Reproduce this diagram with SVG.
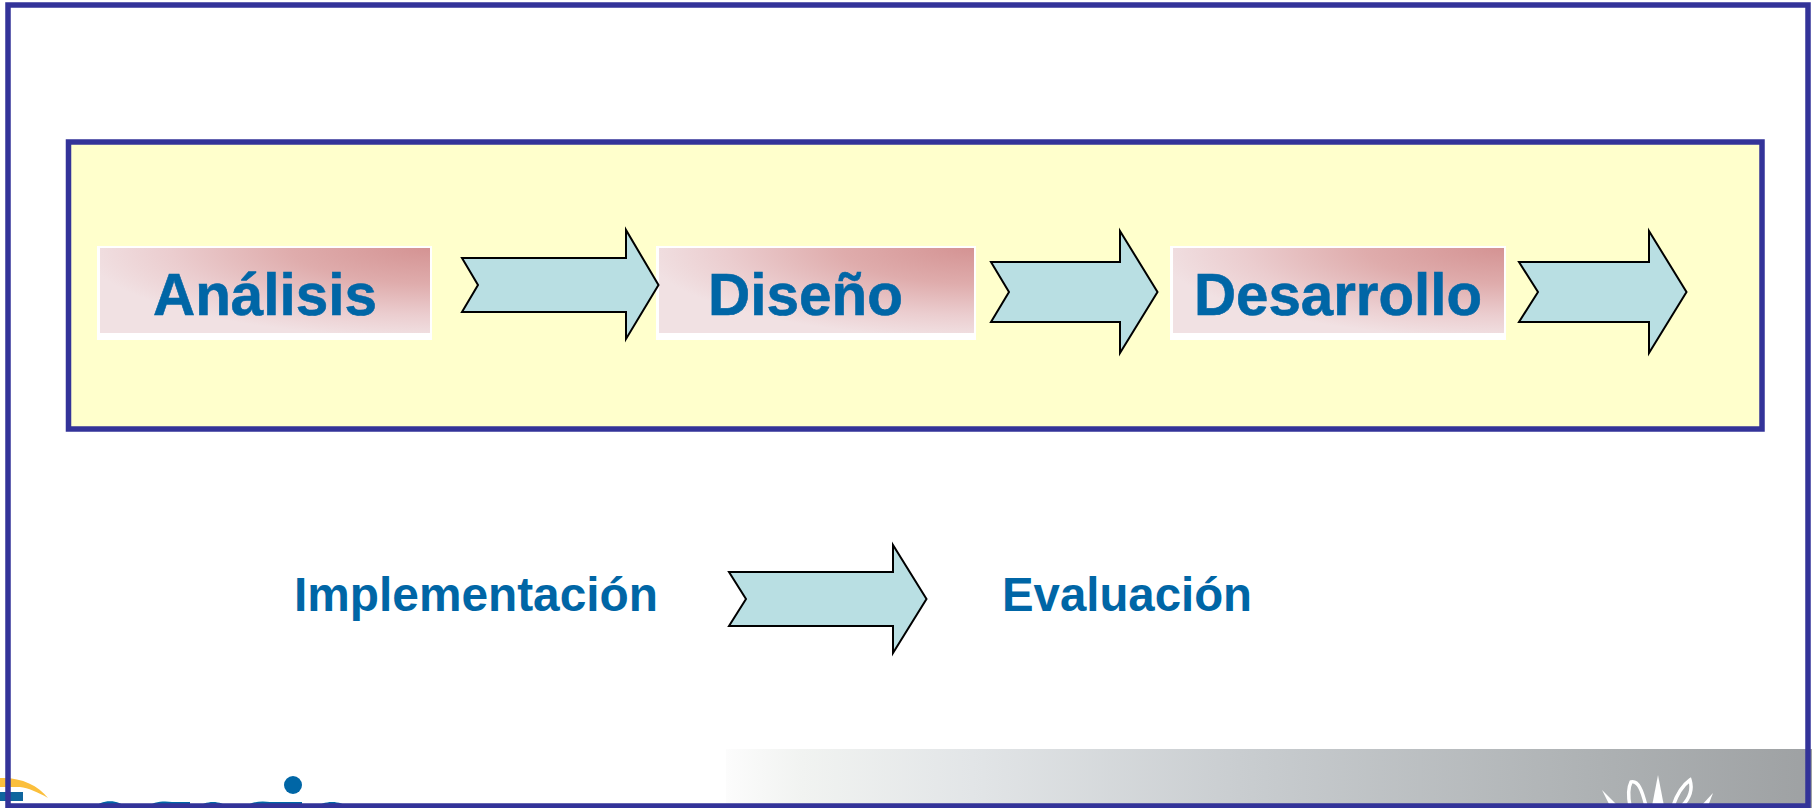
<svg xmlns="http://www.w3.org/2000/svg" width="1812" height="808" viewBox="0 0 1812 808">
<style>
.lbl{font-family:"Liberation Sans",Arial,sans-serif;font-weight:700;fill:#0066a6}
.big{font-size:60px;stroke:#0066a6;stroke-width:.6}
.mid{font-size:48px}
.box{fill:url(#pink);stroke:none}
.pad{fill:#fff}
.arr{fill:#b9dfe3;stroke:#000;stroke-width:2;stroke-linejoin:miter}
.leaf{fill:none;stroke:#fff;stroke-width:3.500}
.spike{fill:#fff}
</style>
<defs>
<radialGradient id="pink" cx="1" cy="0" r="1.050">
<stop offset="0" stop-color="#d49393"/>
<stop offset="0.4" stop-color="#dfacac"/>
<stop offset="0.75" stop-color="#ebcdcf"/>
<stop offset="1" stop-color="#f1e1e3"/>
</radialGradient>
<linearGradient id="strip" x1="0" x2="1" y1="0" y2="0">
<stop offset="0" stop-color="#fcfcfc"/>
<stop offset="0.07" stop-color="#f1f3f1"/>
<stop offset="0.227" stop-color="#e2e5e7"/>
<stop offset="0.473" stop-color="#c9cdd0"/>
<stop offset="0.805" stop-color="#adb1b3"/>
<stop offset="1" stop-color="#9ea1a3"/>
</linearGradient>
</defs>
<rect width="1812" height="808" fill="#fff"/>
<rect id="strip-band" x="726" y="749" width="1086" height="59" fill="url(#strip)"/>
<g id="logo">
<path d="M0 778C20 777 38 785 48 798C38 792 28 788 20 787H0Z" fill="#fbbf3c"/>
<rect x="0" y="792" width="23" height="9" fill="#0f659e"/>
<circle cx="293" cy="785" r="9" fill="#0066a6"/>
<path d="M94 808C100 799 120 799 126 808ZM147 808C152 801 165 801 172 802H190V808ZM198 808C204 800 222 800 228 808ZM245 808C250 801 262 801 270 802H302V808H245ZM316 808C322 800 342 800 348 808Z" fill="#0066a6"/>
</g>
<g id="emblem">
<path class="spike" d="M1658 775L1652 806H1664Z"/>
<path class="spike" d="M1602 790L1618 806H1610Z"/>
<path class="spike" d="M1713 793L1701 806H1708Z"/>
<path class="leaf" d="M1630 806C1628 796 1628 788 1631 782C1638 780 1642 790 1646 806"/>
<path class="leaf" d="M1673 806C1677 794 1683 785 1690 780C1693 790 1690 798 1682 806"/>
</g>
<g id="panel"><rect x="68.500" y="142" width="1693.500" height="287" fill="#ffffcc" stroke="#333399" stroke-width="5.500"/></g>
<g id="analisis"><rect class="pad" x="97" y="246" width="335" height="94"/><rect class="box" x="100" y="248" width="330" height="85"/><text class="lbl big" x="153" y="315" textLength="224" lengthAdjust="spacingAndGlyphs">Análisis</text></g>
<g id="diseno"><rect class="pad" x="656" y="246" width="320" height="94"/><rect class="box" x="659" y="248" width="315" height="85"/><text class="lbl big" x="708" y="315" textLength="195" lengthAdjust="spacingAndGlyphs">Diseño</text></g>
<g id="desarrollo"><rect class="pad" x="1170" y="246" width="336" height="94"/><rect class="box" x="1173" y="248" width="331" height="85"/><text class="lbl big" x="1194" y="315" textLength="288" lengthAdjust="spacingAndGlyphs">Desarrollo</text></g>
<g id="connectors">
<path class="arr" d="M462 258H626V230L658.500 285L626 339V312H462L478 285Z"/>
<path class="arr" d="M991 262H1120V231L1157.500 292L1120 353V322H991L1009 292Z"/>
<path class="arr" d="M1519 262H1649V231L1686.500 292L1649 353V322H1519L1538 292Z"/>
<path class="arr" d="M729 572H893V545L926.500 599L893 653V626H729L746 599Z"/>
</g>
<g id="implementacion"><text class="lbl mid" x="294" y="611" textLength="364" lengthAdjust="spacingAndGlyphs">Implementación</text></g>
<g id="evaluacion"><text class="lbl mid" x="1002" y="611" textLength="250" lengthAdjust="spacingAndGlyphs">Evaluación</text></g>
<g id="frame"><rect x="8" y="5" width="1800" height="801" fill="none" stroke="#333399" stroke-width="5.500"/></g>
</svg>
